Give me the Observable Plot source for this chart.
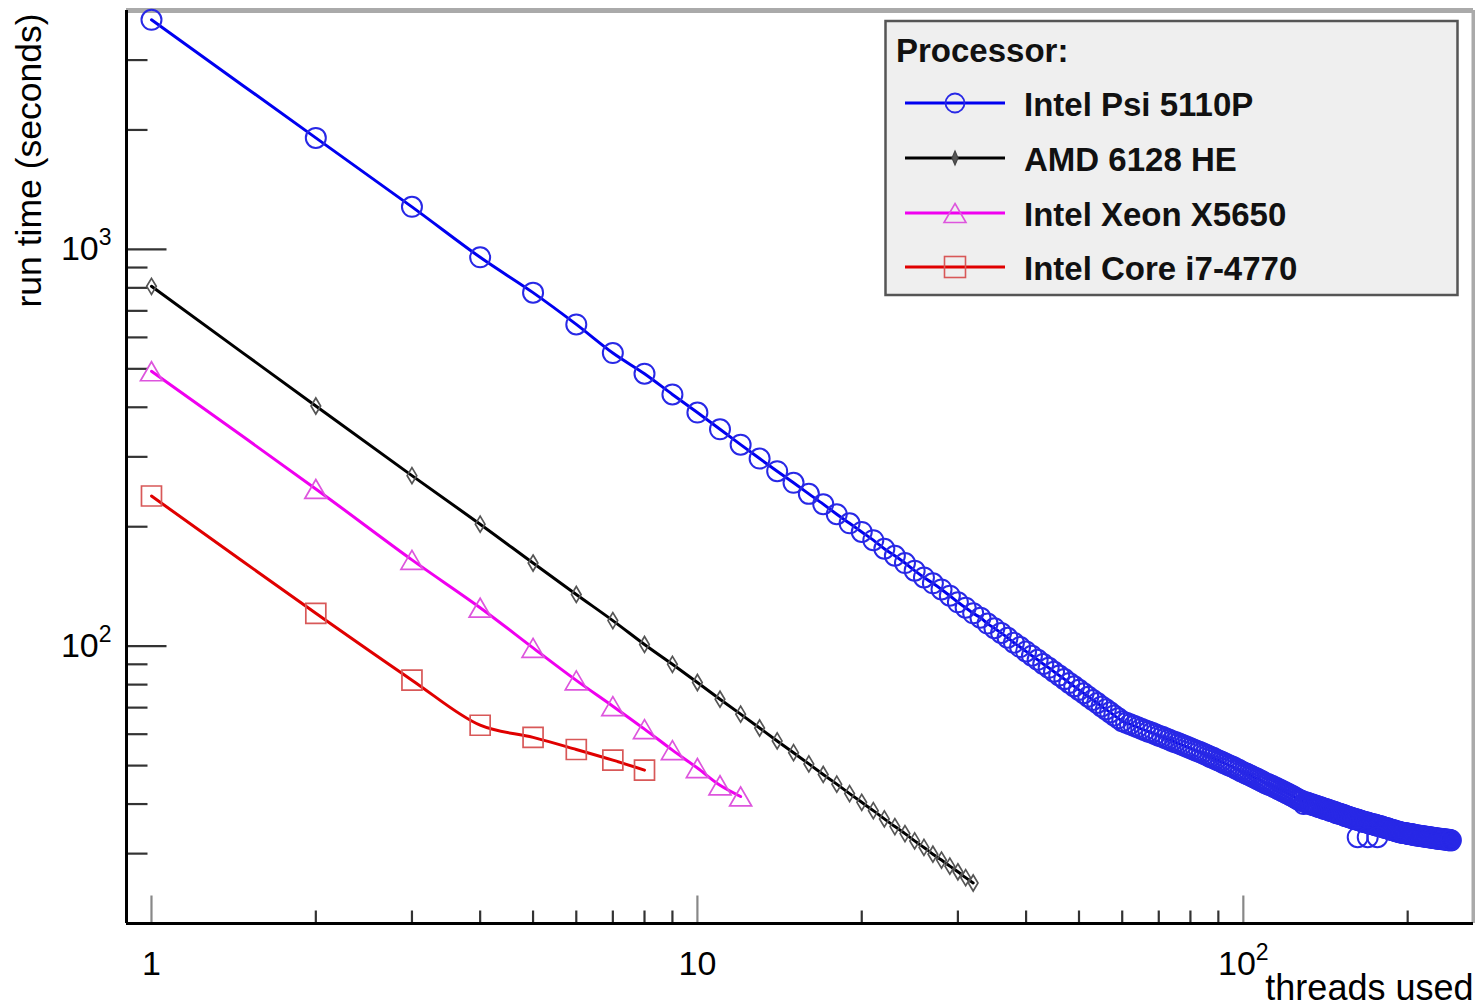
<!DOCTYPE html>
<html><head><meta charset="utf-8">
<script src="https://cdn.jsdelivr.net/npm/d3@7"></script>
<script src="https://cdn.jsdelivr.net/npm/@observablehq/plot@0.6"></script>
<style>
html,body{margin:0;padding:0;background:#fff;}
#wrap{position:relative;width:1475px;height:1005px;font-family:"Liberation Sans",Arial,Helvetica,sans-serif;}
#legend{position:absolute;left:0;top:0;pointer-events:none;}
</style></head><body><div id="wrap"></div>
<script>
// ---------- data ----------
const seriesNames = ["Intel Psi 5110P", "AMD 6128 HE", "Intel Xeon X5650", "Intel Core i7-4770"];

// run time (s) for threads 1..240
const phiRunTime = [
 3790,1910,1280,955,778,647,548,486,431,388,
 352,322,297,276,258,242,228,215,204,194,
 185,176,169,162,155,149,144,139,134,129,
 125,121,118,114,111,108,105,102,99.5,97.0,
 94.6,92.4,90.2,88.2,86.2,84.3,82.6,80.8,79.2,77.6,
 76.1,74.6,73.2,71.9,70.5,69.3,68.1,66.9,65.8,64.7,
 64.1,63.6,63.0,62.5,61.9,61.4,60.9,60.5,60.0,59.5,
 59.1,58.6,58.2,57.7,57.3,56.9,56.5,56.1,55.7,55.3,
 54.9,54.5,54.2,53.8,53.4,53.0,52.6,52.3,51.9,51.5,
 51.2,50.8,50.5,50.1,49.8,49.5,49.1,48.8,48.4,48.1,
 47.8,47.5,47.2,46.9,46.6,46.3,46.0,45.7,45.4,45.1,
 44.9,44.6,44.4,44.1,43.9,43.6,43.4,43.1,42.9,42.6,
 42.4,42.1,41.9,41.6,41.4,41.1,40.9,40.7,40.0,40.4,
 40.3,40.1,40.0,39.8,39.7,39.6,39.4,39.3,39.2,39.0,
 38.9,38.8,38.7,38.5,38.4,38.3,38.2,38.0,37.9,37.8,
 37.7,37.6,37.5,37.3,37.2,37.1,37.0,36.9,36.8,36.7,
 36.6,36.5,36.4,36.3,36.2,36.1,36.0,36.0,35.9,35.8,
 35.7,35.6,35.6,35.5,35.4,35.3,35.2,35.2,35.1,35.0,
 34.9,34.8,34.8,34.7,34.6,34.5,34.4,34.4,34.3,34.2,
 34.1,34.1,34.0,33.9,33.9,33.8,33.8,33.8,33.7,33.7,
 33.6,33.6,33.6,33.5,33.5,33.4,33.4,33.4,33.3,33.3,
 33.3,33.2,33.2,33.2,33.1,33.1,33.1,33.0,33.0,33.0,
 32.9,32.9,32.9,32.8,32.8,32.8,32.7,32.7,32.7,32.7,
 32.6,32.6,32.6,32.6,32.5,32.5,32.5,32.5,32.4,32.4
];
// a few repeated measurements lying below the main curve
const phiExtraThreads = [162, 169, 176];
const phiExtraRunTime = [33.0, 33.0, 33.0];

// threads 1..32
const amdRunTime = [807,403,269,203,162,135,116,101,90.0,81.0,73.5,67.4,62.2,57.7,53.9,50.5,
  47.5,44.9,42.5,40.4,38.5,36.7,35.1,33.7,32.3,31.1,29.9,28.9,27.9,27.0,26.1,25.3];
// threads 1..12
const xeonRunTime = [493,249,165,125,99.0,82.0,70.6,61.8,54.7,49.3,44.6,41.8];
// threads 1..8
const coreRunTime = [239,121,82.1,63.2,58.9,54.9,51.6,48.7];

const xDomain = [0.9, 264];
const yDomain = [20, 4000];
const xMajorTicks = [1, 10, 100];
const xTickLabels = ["1", "10", "10²"];
const xMinorTicks = [2,3,4,5,6,7,8,9,20,30,40,50,60,70,80,90,200];
const yMajorTicks = [100, 1000];
const yTickLabels = ["10²", "10³"];
const yMinorTicks = [20,30,40,50,60,70,80,90,200,300,400,500,600,700,800,900,2000,3000];

const colors = {line: ["#0000f0", "#000000", "#f000f0", "#e00000"],
                marker: ["#2828e6", "#555555", "#dd55dd", "#d85858"]};

// ---------- tables ----------
const toRows = arr => arr.map((v, i) => ({threads: i + 1, time: v}));
const phi = toRows(phiRunTime);
const phiExtra = phiExtraThreads.map((t, i) => ({threads: t, time: phiExtraRunTime[i]}));
const amd = toRows(amdRunTime);
const xeon = toRows(xeonRunTime);
const core = toRows(coreRunTime);

// ---------- custom marker shapes (ROOT-like, box centred) ----------
const rOf = size => Math.sqrt(size / Math.PI);
const squareSym = {draw(c, s){ const r = rOf(s); c.moveTo(-r,-r); c.lineTo(r,-r); c.lineTo(r,r); c.lineTo(-r,r); c.closePath(); }};
const triSym = {draw(c, s){ const r = rOf(s); c.moveTo(0,-0.95*r); c.lineTo(1.1*r,0.95*r); c.lineTo(-1.1*r,0.95*r); c.closePath(); }};
const diaSym = {draw(c, s){ const r = rOf(s); c.moveTo(0,-r); c.lineTo(0.6*r,0); c.lineTo(0,r); c.lineTo(-0.6*r,0); c.closePath(); }};
// plain tick segment for vector marks
const tickShape = {draw(c, l){ c.moveTo(0, 0); c.lineTo(0, -l); }};

const lineOpts = (i) => ({x: "threads", y: "time", stroke: colors.line[i], strokeWidth: 3, curve: "catmull-rom"});
const dotOpts = (i, sym, r, w = 1.7) => ({x: "threads", y: "time", stroke: colors.marker[i], strokeWidth: w, fill: "none", symbol: sym, r});
const tickOpts = (len, rot, color) => ({length: len, rotate: rot, anchor: "start", shape: tickShape, stroke: color, strokeWidth: 2.2, strokeLinecap: "butt"});

const plot = Plot.plot({
  width: 1475, height: 1005,
  marginLeft: 126, marginRight: 2, marginTop: 10, marginBottom: 82,
  style: {fontFamily: '"Liberation Sans", Arial, Helvetica, sans-serif', fontSize: "34px", background: "white", color: "black", overflow: "visible"},
  x: {type: "log", domain: xDomain},
  y: {type: "log", domain: yDomain},
  marks: [
    // frame
    Plot.ruleY([yDomain[1]], {stroke: "#aaaaaa", strokeWidth: 5}),
    Plot.ruleX([xDomain[1]], {stroke: "#aaaaaa", strokeWidth: 4}),
    // ticks (inward)
    Plot.vector(yMinorTicks, {y: d => d, frameAnchor: "left", ...tickOpts(21, 90, "#333")}),
    Plot.vector(yMajorTicks, {y: d => d, frameAnchor: "left", ...tickOpts(40, 90, "#333")}),
    Plot.vector(xMinorTicks, {x: d => d, frameAnchor: "bottom", ...tickOpts(13, 0, "#333")}),
    Plot.vector(xMajorTicks, {x: d => d, frameAnchor: "bottom", ...tickOpts(28, 0, "#888")}),
    // data
    Plot.line(core, lineOpts(3)),
    Plot.dot(core, dotOpts(3, squareSym, 10)),
    Plot.line(xeon, lineOpts(2)),
    Plot.dot(xeon, dotOpts(2, triSym, 10)),
    Plot.line(amd, lineOpts(1)),
    Plot.dot(amd, dotOpts(1, diaSym, 8)),
    Plot.line(phi, lineOpts(0)),
    Plot.dot(phi, dotOpts(0, "circle", 10, 2)),
    Plot.dot(phiExtra, dotOpts(0, "circle", 10, 2)),
    // axes lines
    Plot.ruleY([yDomain[0]], {stroke: "black", strokeWidth: 3}),
    Plot.ruleX([xDomain[0]], {stroke: "black", strokeWidth: 3}),
    // tick labels
    Plot.axisY(yMajorTicks, {tickSize: 0, tickPadding: 15, tickFormat: d => yTickLabels[yMajorTicks.indexOf(d)], fontSize: 34, label: null}),
    Plot.axisX(xMajorTicks, {tickSize: 0, tickPadding: 27, tickFormat: d => xTickLabels[xMajorTicks.indexOf(d)], fontSize: 34, label: null}),
    // axis titles
    Plot.text(["threads used"], {text: d => d, frameAnchor: "bottom-right", textAnchor: "end", lineAnchor: "bottom", dy: 76, fontSize: 36}),
    Plot.text(["run time (seconds)"], {text: d => d, frameAnchor: "top-left", textAnchor: "end", lineAnchor: "bottom", rotate: -90, dx: -86, dy: 3, fontSize: 35.5})
  ]
});

// superscripts for 10^n labels
plot.querySelectorAll("text").forEach(t => {
  const m = /^10([²³])$/.exec(t.textContent);
  if (m) {
    t.textContent = "10";
    const ts = document.createElementNS("http://www.w3.org/2000/svg", "tspan");
    ts.setAttribute("font-size", "23");
    ts.setAttribute("dy", "-15");
    ts.textContent = m[1] === "²" ? "2" : "3";
    t.appendChild(ts);
  }
});

const wrap = document.getElementById("wrap");
wrap.appendChild(plot);

// ---------- legend ----------
const NS = "http://www.w3.org/2000/svg";
const lg = document.createElementNS(NS, "svg");
lg.setAttribute("id", "legend");
lg.setAttribute("width", 1475); lg.setAttribute("height", 1005);
function el(name, attrs, parent = lg) { const e = document.createElementNS(NS, name); for (const k in attrs) e.setAttribute(k, attrs[k]); parent.appendChild(e); return e; }
el("rect", {x: 885.5, y: 21, width: 572, height: 274, fill: "#efefef", stroke: "#555", "stroke-width": 2.5});
const title = el("text", {x: 896, y: 62, "font-size": 33, "font-weight": "bold", fill: "#111", "font-family": '"Liberation Sans", Arial, sans-serif'});
title.textContent = "Processor:";
const rowY = [103, 158, 213, 267];
const markers = [
  (y, c) => el("circle", {cx: 955, cy: y, r: 9.5, fill: "none", stroke: c, "stroke-width": 1.8}),
  (y, c) => el("path", {d: `M955,${y-7}L958,${y}L955,${y+7}L952,${y}Z`, fill: "#555", stroke: "#444", "stroke-width": 1.2}),
  (y, c) => el("path", {d: `M955,${y-9.5}L966,${y+9.5}L944,${y+9.5}Z`, fill: "none", stroke: c, "stroke-width": 1.6}),
  (y, c) => el("rect", {x: 944.5, y: y - 10.5, width: 21, height: 21, fill: "none", stroke: c, "stroke-width": 1.6})
];
seriesNames.forEach((name, i) => {
  const y = rowY[i];
  el("line", {x1: 905, x2: 1005, y1: y, y2: y, stroke: colors.line[i], "stroke-width": 3});
  markers[i](y, colors.marker[i]);
  const t = el("text", {x: 1024, y: y + 13, "font-size": 33, "font-weight": "bold", fill: "#111", "font-family": '"Liberation Sans", Arial, sans-serif'});
  t.textContent = name;
});
wrap.appendChild(lg);
</script></body></html>
